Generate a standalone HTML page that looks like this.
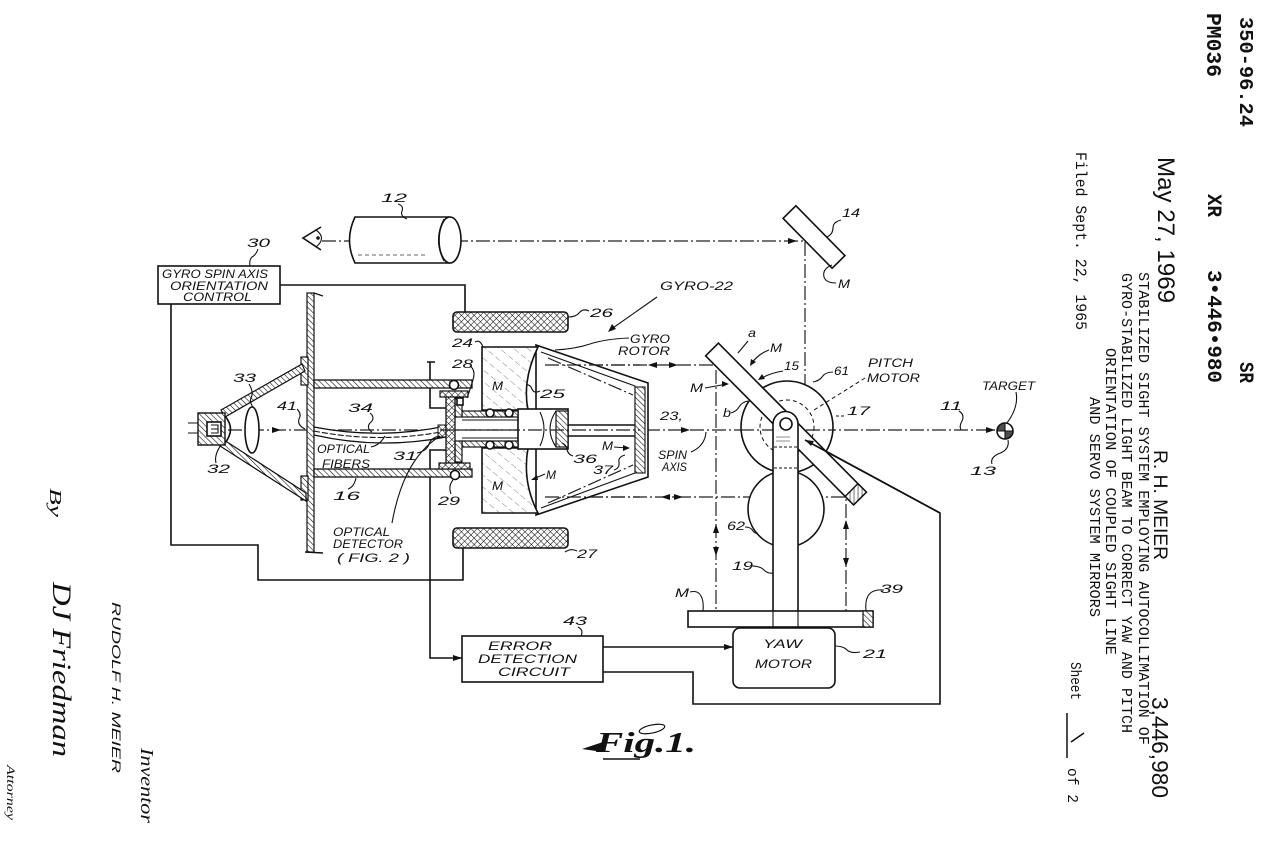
<!DOCTYPE html>
<html><head><meta charset="utf-8">
<style>
html,body{margin:0;padding:0;background:#fff;}
svg{display:block;}
.s{fill:none;stroke:#111;stroke-width:1.6}
.n{fill:none;stroke:#111;stroke-width:1.1}
.w{fill:#fff;stroke:#111;stroke-width:1.6}
.d{fill:none;stroke:#222;stroke-width:1.2;stroke-dasharray:14 3 2 3}
.k{fill:#111}
.t{font-family:"Liberation Sans",sans-serif;font-style:italic;font-size:12px;fill:#111}
.m{font-family:"Liberation Mono",monospace;fill:#111}
.sf{font-family:"Liberation Serif",serif;font-style:italic;fill:#111}
</style></head>
<body>
<svg width="1280" height="851" viewBox="0 0 1280 851" xmlns="http://www.w3.org/2000/svg">
<defs>
<pattern id="h" width="4" height="4" patternUnits="userSpaceOnUse" patternTransform="rotate(-45)"><rect width="4" height="4" fill="#fff"/><line x1="0" y1="0" x2="0" y2="4" stroke="#000" stroke-width="1.1"/></pattern>
<pattern id="xh" width="4.5" height="4.5" patternUnits="userSpaceOnUse" patternTransform="rotate(45)"><rect width="4.5" height="4.5" fill="#fff"/><path d="M0,0V4.5M0,0H4.5" stroke="#000" stroke-width="1"/></pattern>
<pattern id="lh" width="9" height="9" patternUnits="userSpaceOnUse" patternTransform="rotate(-50)"><rect width="9" height="9" fill="#fff"/><line x1="0" y1="0" x2="0" y2="9" stroke="#666" stroke-width="0.8" stroke-dasharray="3 3"/></pattern>
</defs>

<!-- ===== header (rotated) ===== -->
<text class="m" font-weight="bold" font-size="19" transform="translate(1240,17) rotate(90)" textLength="110" lengthAdjust="spacingAndGlyphs">350-96.24</text>
<text class="m" font-weight="bold" font-size="21" transform="translate(1207,13) rotate(90)" textLength="64" lengthAdjust="spacingAndGlyphs">PM036</text>
<text class="m" font-weight="bold" font-size="20" transform="translate(1208,194) rotate(90)" textLength="23" lengthAdjust="spacingAndGlyphs">XR</text>
<text class="m" font-weight="bold" font-size="20" transform="translate(1208,270) rotate(90)" textLength="113" lengthAdjust="spacingAndGlyphs">3•446•980</text>
<text class="m" font-weight="bold" font-size="20" transform="translate(1240,362) rotate(90)" textLength="21" lengthAdjust="spacingAndGlyphs">SR</text>
<text font-family="Liberation Sans,sans-serif" font-size="24" fill="#111" transform="translate(1158,157) rotate(90)" textLength="146" lengthAdjust="spacingAndGlyphs">May 27, 1969</text>
<text class="m" font-size="16" transform="translate(1076,152) rotate(90)" textLength="178" lengthAdjust="spacingAndGlyphs">Filed Sept. 22, 1965</text>
<text class="m" font-size="15" transform="translate(1139,272) rotate(90)" textLength="473" lengthAdjust="spacingAndGlyphs">STABILIZED SIGHT SYSTEM EMPLOYING AUTOCOLLIMATION OF</text>
<text class="m" font-size="15" transform="translate(1122,273) rotate(90)" textLength="460" lengthAdjust="spacingAndGlyphs">GYRO-STABILIZED LIGHT BEAM TO CORRECT YAW AND PITCH</text>
<text class="m" font-size="15" transform="translate(1106,348) rotate(90)" textLength="307" lengthAdjust="spacingAndGlyphs">ORIENTATION OF COUPLED SIGHT LINE</text>
<text class="m" font-size="15" transform="translate(1090,397) rotate(90)" textLength="220" lengthAdjust="spacingAndGlyphs">AND SERVO SYSTEM MIRRORS</text>
<text font-family="Liberation Sans,sans-serif" font-size="19" fill="#111" transform="translate(1154,450) rotate(90)" textLength="110" lengthAdjust="spacingAndGlyphs">R. H. MEIER</text>
<text font-family="Liberation Sans,sans-serif" font-size="23" fill="#111" transform="translate(1152,697) rotate(90)" textLength="101" lengthAdjust="spacingAndGlyphs">3,446,980</text>
<text class="m" font-size="15" transform="translate(1071,662) rotate(90)" textLength="38" lengthAdjust="spacingAndGlyphs">Sheet</text>
<line x1="1067" y1="713" x2="1067" y2="758" stroke="#111" stroke-width="1.5"/>
<line x1="1071" y1="742" x2="1084" y2="733" stroke="#111" stroke-width="1.6"/>
<text class="m" font-size="15" transform="translate(1068,768) rotate(90)" textLength="35" lengthAdjust="spacingAndGlyphs">of 2</text>

<!-- ===== bottom-left signatures ===== -->
<text class="sf" font-size="17" transform="translate(50,488) rotate(90)" textLength="29" lengthAdjust="spacingAndGlyphs">By</text>
<text class="sf" font-size="26" transform="translate(53,582) rotate(90)" textLength="175" lengthAdjust="spacingAndGlyphs">DJ Friedman</text>
<text class="t" font-size="15" transform="translate(112,602) rotate(90)" textLength="171" lengthAdjust="spacingAndGlyphs">RUDOLF H. MEIER</text>
<text class="sf" font-size="18" transform="translate(141,748) rotate(90)" textLength="75" lengthAdjust="spacingAndGlyphs">Inventor</text>
<text class="sf" font-size="12" transform="translate(7,765) rotate(90)" textLength="55" lengthAdjust="spacingAndGlyphs">Attorney</text>

<!-- ===== optical dash-dot paths ===== -->
<path class="d" d="M322,241 H805 V410"/>
<path class="d" d="M228,430 H1000"/>
<path class="d" d="M545,365 H716 V611"/>
<path class="d" d="M545,497 H846 V611"/>

<!-- ===== telescope 12 & eye ===== -->
<path class="w" d="M450,217 L355,217 Q344,240 355,263 L450,263"/>
<ellipse class="w" cx="450" cy="240" rx="11" ry="23"/>
<path class="n" d="M444,219 Q433,240 444,261"/>
<line x1="358" y1="255" x2="425" y2="255" stroke="#333" stroke-width="0.8" stroke-dasharray="4 3"/>
<path class="s" d="M321,227 L303,238 L321,250"/>
<path class="n" d="M316,230 Q327,238 316,247"/>
<circle cx="318" cy="238" r="1.8" class="k"/>
<text class="t" x="381" y="202" textLength="26" lengthAdjust="spacingAndGlyphs">12</text>
<path class="n" d="M398,204 q6,2 4,7 q-2,5 5,8"/>

<!-- ===== mirror 14 ===== -->
<rect class="w" x="-35" y="-9" width="70" height="18" transform="translate(814,237) rotate(45.5)"/>
<text class="t" x="842" y="217" textLength="18" lengthAdjust="spacingAndGlyphs">14</text>
<path class="n" d="M841,220 q-8,2 -8,8 q0,6 -6,9"/>
<path class="n" d="M832,265 q-10,4 -8,12 q2,6 12,6"/>
<text class="t" x="838" y="288" textLength="12" lengthAdjust="spacingAndGlyphs">M</text>

<!-- ===== box 30 ===== -->
<rect class="s" x="158" y="266" width="122" height="38"/>
<text class="t" font-size="11" x="162" y="278" textLength="106" lengthAdjust="spacingAndGlyphs">GYRO SPIN AXIS</text>
<text class="t" font-size="11" x="170" y="290" textLength="98" lengthAdjust="spacingAndGlyphs">ORIENTATION</text>
<text class="t" font-size="11" x="183" y="301" textLength="69" lengthAdjust="spacingAndGlyphs">CONTROL</text>
<text class="t" x="247" y="247" textLength="23" lengthAdjust="spacingAndGlyphs">30</text>
<path class="n" d="M258,249 q-2,6 -6,8 q-3,3 -2,9"/>

<!-- ===== wires ===== -->
<path class="s" d="M280,285 H465 V312"/>
<path class="s" d="M171,304 V545 H258 V580 H463 V548"/>
<path class="s" d="M446,450 H430 V658 H462"/>
<path class="k" d="M462,658 l-9,-3 v6 z"/>
<path class="s" d="M427,362 H435 M430,362 V408 H446"/>
<path class="s" d="M603,647 H733"/>
<path class="k" d="M733,647 l-9,-3 v6 z"/>
<path class="s" d="M603,672 H693 V704 H940 V513 L805,440"/>

<!-- ===== coils 26 27 ===== -->
<rect x="453" y="312" width="115" height="20" rx="4" fill="url(#xh)" stroke="#111" stroke-width="1.6"/>
<rect x="453" y="528" width="115" height="20" rx="4" fill="url(#xh)" stroke="#111" stroke-width="1.6"/>
<text class="t" x="590" y="317" textLength="23" lengthAdjust="spacingAndGlyphs">26</text>
<path class="n" d="M589,311 q-6,-3 -10,2 q-3,4 -11,4"/>
<text class="t" x="577" y="558" textLength="20" lengthAdjust="spacingAndGlyphs">27</text>
<path class="n" d="M577,551 q-6,-3 -12,1"/>

<!-- ===== bulkhead, housing 16 ===== -->
<rect x="307" y="293" width="7" height="259" fill="url(#h)" stroke="#111" stroke-width="1.2"/>
<rect x="301" y="357" width="7" height="28" fill="url(#h)" stroke="#111" stroke-width="1.2"/>
<rect x="301" y="476" width="7" height="24" fill="url(#h)" stroke="#111" stroke-width="1.2"/>
<line x1="314" y1="293" x2="323" y2="296" stroke="#111" stroke-width="1.2"/>
<line x1="305" y1="552" x2="323" y2="553" stroke="#111" stroke-width="1.4"/>
<rect x="314" y="380" width="158" height="8" fill="url(#h)" stroke="#111" stroke-width="1.3"/>
<rect x="314" y="469" width="158" height="8" fill="url(#h)" stroke="#111" stroke-width="1.3"/>

<!-- eyepiece cone -->
<polygon points="221,410 302,364 305,371 225,417" fill="url(#h)" stroke="#111" stroke-width="1.2"/>
<polygon points="224,440 306,493 306,501 220,446" fill="url(#h)" stroke="#111" stroke-width="1.2"/>
<ellipse class="w" cx="252" cy="430" rx="7" ry="23"/>
<rect x="198" y="413" width="27" height="32" fill="url(#h)" stroke="#111" stroke-width="1.4"/>
<rect class="w" x="207" y="422" width="14" height="14" stroke-width="1.2"/>
<path class="n" d="M211,425 H218 V433 H211 M211,429 H218"/>
<path class="s" d="M225,416 Q236,429 225,443"/>
<path class="n" d="M188,423 H198 M188,433 H198"/>
<path class="k" d="M281,430 l-9,-3 v6 z"/>

<!-- optical fibers 34 -->
<path d="M314,427 Q380,440 446,426 L446,437 Q380,450 314,435 Z" fill="#fff" stroke="#111" stroke-width="1.2"/>
<path d="M314,431 Q380,444 446,431" class="n" stroke-dasharray="6 2"/>
<rect x="438" y="425" width="9" height="12" fill="url(#xh)" stroke="#111" stroke-width="1"/>

<!-- ===== gyro rotor ===== -->
<path class="w" d="M536,345 L648,383 L648,477 L536,515 Z"/>
<path class="n" d="M541,352 L635,386 L635,473 L541,508"/>
<rect x="635" y="387" width="10" height="86" fill="url(#h)" stroke="#111" stroke-width="1.1"/>
<path class="d" d="M548,358 L633,395 M548,503 L633,465"/>
<path class="d" d="M545,365 H640 M545,497 H640"/>
<path class="s" d="M568,425 H635 M568,436 H635"/>
<path d="M482,347 L538,347 Q522,380 528,410 L482,410 Z" fill="url(#lh)" stroke="#111" stroke-width="1.6"/>
<path d="M482,448 L528,448 Q522,482 538,513 L482,513 Z" fill="url(#lh)" stroke="#111" stroke-width="1.6"/>
<!-- hub -->
<rect class="w" x="518" y="409" width="50" height="40"/>
<rect x="556" y="411" width="12" height="36" fill="url(#h)" stroke="#111" stroke-width="1.2"/>
<path class="n" d="M556,411 Q544,429 556,447 M540,412 Q548,429 540,446"/>
<rect x="462" y="411" width="56" height="6" fill="url(#h)" stroke="#111" stroke-width="1.2"/>
<rect x="462" y="441" width="56" height="6" fill="url(#h)" stroke="#111" stroke-width="1.2"/>
<rect x="455" y="398" width="7" height="19" fill="url(#h)" stroke="#111" stroke-width="1.2"/>
<rect x="455" y="441" width="7" height="21" fill="url(#h)" stroke="#111" stroke-width="1.2"/>
<path class="n" d="M462,420 H518 M462,438 H518"/>
<rect x="446" y="392" width="9" height="75" fill="url(#xh)" stroke="#111" stroke-width="1.3"/>
<rect x="440" y="391" width="28" height="6" fill="url(#xh)" stroke="#111" stroke-width="1.2"/>
<rect x="439" y="463" width="31" height="6" fill="url(#xh)" stroke="#111" stroke-width="1.2"/>
<circle class="w" cx="454" cy="385" r="4.5"/>
<circle class="w" cx="455" cy="475" r="4.5"/>
<rect class="w" x="457" y="398" width="6" height="7" stroke-width="1"/>
<circle class="w" cx="490" cy="413" r="4"/>
<circle class="w" cx="509" cy="413" r="4"/>
<circle class="w" cx="490" cy="445" r="4"/>
<circle class="w" cx="509" cy="445" r="4"/>
<path class="d" d="M440,430 H640"/>
<path class="k" d="M690,430 l-9,-3 v6 z"/>

<!-- beam arrows -->
<path class="k" d="M797,241 l-9,-3 v6 z"/>
<path class="k" d="M805,402 l-3,-9 h6 z"/>
<path class="k" d="M648,365 l9,-3 v6 z"/>
<path class="k" d="M678,365 l-9,-3 v6 z"/>
<path class="k" d="M661,497 l9,-3 v6 z"/>
<path class="k" d="M683,497 l-9,-3 v6 z"/>
<path class="k" d="M716,524 l-3,9 h6 z"/>
<path class="k" d="M716,556 l-3,-9 h6 z"/>
<path class="k" d="M846,520 l-3,9 h6 z"/>
<path class="k" d="M846,567 l-3,-9 h6 z"/>
<path class="k" d="M995,430 l-9,-3 v6 z"/>

<!-- ===== pitch / yaw assembly ===== -->
<circle class="w" cx="786" cy="509" r="38"/>
<circle class="w" cx="787" cy="427" r="46"/>
<circle cx="787" cy="427" r="27" fill="none" stroke="#111" stroke-width="1" stroke-dasharray="4 3"/>
<circle cx="785" cy="503" r="7" fill="none" stroke="#111" stroke-width="1" stroke-dasharray="2 2"/>
<path class="d" d="M740,430 H835"/>
<g transform="translate(786,424) rotate(45.2)">
<rect class="w" x="-105" y="-9" width="210" height="18"/>
<rect x="93" y="-9" width="12" height="18" fill="url(#h)" stroke="#111" stroke-width="1.4"/>
</g>
<path class="w" d="M773,611 V424 A12.5,12.5 0 0 1 798,424 V611"/>
<circle class="w" cx="786" cy="424" r="6"/>
<path d="M774,447 H797 M774,468 H797" stroke="#111" stroke-width="1" stroke-dasharray="3 2"/>
<path d="M776,437 H790 M776,441 H790" stroke="#666" stroke-width="0.8"/>
<path class="s" d="M940,513 L805,440"/>
<path class="k" d="M805,440 l9,1 l-3,5 z"/>
<rect class="w" x="688" y="611" width="185" height="16"/>
<rect x="863" y="611" width="10" height="16" fill="url(#h)" stroke="#111" stroke-width="1.2"/>
<path class="n" d="M773,611 V627 M798,611 V627"/>
<rect class="w" x="733" y="628" width="102" height="60" rx="7"/>
<text class="t" x="763" y="648" textLength="39" lengthAdjust="spacingAndGlyphs">YAW</text>
<text class="t" x="755" y="668" textLength="57" lengthAdjust="spacingAndGlyphs">MOTOR</text>

<!-- target -->
<circle class="w" cx="1005" cy="431" r="8"/>
<path class="n" d="M997,431 H1013 M1005,423 V439"/>
<path class="k" d="M1005,431 V423 A8,8 0 0 0 997,431 Z M1005,431 V439 A8,8 0 0 0 1013,431 Z" opacity="0.75"/>

<!-- error detection box -->
<rect class="s" x="462" y="636" width="141" height="46"/>
<text class="t" x="488" y="650" textLength="64" lengthAdjust="spacingAndGlyphs">ERROR</text>
<text class="t" x="478" y="663" textLength="99" lengthAdjust="spacingAndGlyphs">DETECTION</text>
<text class="t" x="498" y="676" textLength="72" lengthAdjust="spacingAndGlyphs">CIRCUIT</text>

<!-- ===== labels ===== -->
<text class="t" x="660" y="290" textLength="73" lengthAdjust="spacingAndGlyphs">GYRO-22</text>
<path class="n" d="M657,297 L610,330"/>
<path class="k" d="M608,332 l4,-8 l4,5 z"/>
<text class="t" x="630" y="343" textLength="40" lengthAdjust="spacingAndGlyphs">GYRO</text>
<text class="t" x="618" y="355" textLength="52" lengthAdjust="spacingAndGlyphs">ROTOR</text>
<path class="n" d="M629,338 Q605,339 590,344 T555,350"/>
<text class="t" x="452" y="347" textLength="21" lengthAdjust="spacingAndGlyphs">24</text>
<path class="n" d="M475,342 q5,-3 8,5"/>
<text class="t" x="452" y="368" textLength="21" lengthAdjust="spacingAndGlyphs">28</text>
<path class="n" d="M470,366 q6,4 3,14 q-3,10 -6,18"/>
<text class="t" x="492" y="390" textLength="11" lengthAdjust="spacingAndGlyphs">M</text>
<text class="t" x="492" y="490" textLength="11" lengthAdjust="spacingAndGlyphs">M</text>
<text class="t" x="540" y="398" textLength="25" lengthAdjust="spacingAndGlyphs">25</text>
<path class="n" d="M540,391 q-6,3 -8,-2 q-2,-5 -6,-4"/>
<text class="t" x="233" y="382" textLength="23" lengthAdjust="spacingAndGlyphs">33</text>
<path class="n" d="M249,384 q5,8 2,14 q-2,5 3,10"/>
<text class="t" x="277" y="410" textLength="20" lengthAdjust="spacingAndGlyphs">41</text>
<path class="n" d="M297,409 q5,5 2,10 q-2,6 6,10"/>
<text class="t" x="348" y="412" textLength="25" lengthAdjust="spacingAndGlyphs">34</text>
<path class="n" d="M370,413 q6,5 0,10 q-4,5 2,9"/>
<text class="t" x="317" y="453" textLength="53" lengthAdjust="spacingAndGlyphs">OPTICAL</text>
<text class="t" x="322" y="468" textLength="48" lengthAdjust="spacingAndGlyphs">FIBERS</text>
<path class="n" d="M371,447 q9,-2 14,-11"/>
<text class="t" x="393" y="460" textLength="24" lengthAdjust="spacingAndGlyphs">31</text>
<path class="n" d="M417,453 q10,-2 12,-9 q2,-6 10,-8"/>
<text class="t" x="207" y="473" textLength="23" lengthAdjust="spacingAndGlyphs">32</text>
<path class="n" d="M216,463 q-2,-8 5,-18"/>
<text class="t" x="333" y="500" textLength="27" lengthAdjust="spacingAndGlyphs">16</text>
<path class="n" d="M348,489 q6,-2 8,-11"/>
<text class="t" x="438" y="505" textLength="22" lengthAdjust="spacingAndGlyphs">29</text>
<path class="n" d="M451,494 q-3,-8 2,-14"/>
<text class="t" x="333" y="536" textLength="57" lengthAdjust="spacingAndGlyphs">OPTICAL</text>
<text class="t" x="333" y="548" textLength="70" lengthAdjust="spacingAndGlyphs">DETECTOR</text>
<text class="t" x="337" y="562" textLength="73" lengthAdjust="spacingAndGlyphs">( FIG. 2 )</text>
<path class="n" d="M392,523 C398,490 410,455 440,436"/>
<text class="t" x="602" y="450" textLength="11" lengthAdjust="spacingAndGlyphs">M</text>
<path class="n" d="M614,447 L628,448"/>
<path class="k" d="M630,448 l-7,-3 v6 z"/>
<text class="t" x="546" y="479" textLength="10" lengthAdjust="spacingAndGlyphs">M</text>
<path class="n" d="M545,474 L533,479"/>
<path class="k" d="M531,480 l6,-5 l1,5 z"/>
<text class="t" x="573" y="463" textLength="24" lengthAdjust="spacingAndGlyphs">36</text>
<path class="n" d="M573,456 q-6,-2 -6,-8 q-2,-4 -5,-5"/>
<text class="t" x="593" y="474" textLength="20" lengthAdjust="spacingAndGlyphs">37</text>
<path class="n" d="M614,470 q6,-2 5,-8 q-1,-5 6,-7"/>
<text class="t" x="660" y="420" textLength="23" lengthAdjust="spacingAndGlyphs">23,</text>
<text class="t" x="658" y="459" textLength="29" lengthAdjust="spacingAndGlyphs">SPIN</text>
<text class="t" x="662" y="471" textLength="25" lengthAdjust="spacingAndGlyphs">AXIS</text>
<path class="n" d="M691,452 Q705,446 706,432"/>

<text class="t" x="748" y="337" textLength="8" lengthAdjust="spacingAndGlyphs">a</text>
<path class="n" d="M748,341 L738,353"/>
<text class="t" x="770" y="352" textLength="12" lengthAdjust="spacingAndGlyphs">M</text>
<path class="n" d="M769,350 Q758,354 751,364"/>
<path class="k" d="M750,366 l1,-7 l5,3 z"/>
<text class="t" x="784" y="370" textLength="15" lengthAdjust="spacingAndGlyphs">15</text>
<path class="n" d="M783,371 Q770,373 760,379"/>
<path class="k" d="M758,380 l4,-6 l3,5 z"/>
<text class="t" x="690" y="392" textLength="13" lengthAdjust="spacingAndGlyphs">M</text>
<path class="n" d="M705,388 L727,384"/>
<path class="k" d="M729,384 l-7,-3 v6 z"/>
<text class="t" x="723" y="417" textLength="8" lengthAdjust="spacingAndGlyphs">b</text>
<path class="n" d="M731,413 q6,-2 8,-6 q3,-5 9,-6"/>
<text class="t" x="834" y="375" textLength="15" lengthAdjust="spacingAndGlyphs">61</text>
<path class="n" d="M833,372 q-8,0 -11,5 q-3,4 -9,5"/>
<text class="t" x="868" y="367" textLength="45" lengthAdjust="spacingAndGlyphs">PITCH</text>
<text class="t" x="867" y="382" textLength="53" lengthAdjust="spacingAndGlyphs">MOTOR</text>
<path d="M865,378 L814,410" stroke="#111" stroke-width="1" stroke-dasharray="4 3" fill="none"/>
<text class="t" x="847" y="415" textLength="23" lengthAdjust="spacingAndGlyphs">17</text>
<path d="M836,416 H845" stroke="#111" stroke-width="1" stroke-dasharray="3 2"/>
<text class="t" x="982" y="390" textLength="53" lengthAdjust="spacingAndGlyphs">TARGET</text>
<path class="n" d="M1016,392 q3,15 -9,31"/>
<text class="t" x="940" y="410" textLength="22" lengthAdjust="spacingAndGlyphs">11</text>
<path class="n" d="M959,411 q6,4 3,10 q-3,5 -1,9"/>
<text class="t" x="970" y="475" textLength="26" lengthAdjust="spacingAndGlyphs">13</text>
<path class="n" d="M1008,440 q2,10 -10,14 q-8,4 -6,10"/>
<text class="t" x="727" y="530" textLength="18" lengthAdjust="spacingAndGlyphs">62</text>
<path class="n" d="M745,527 q6,0 8,4 q2,3 5,2"/>
<text class="t" x="732" y="570" textLength="21" lengthAdjust="spacingAndGlyphs">19</text>
<path class="n" d="M752,566 q8,0 12,4 q4,4 9,3"/>
<text class="t" x="675" y="597" textLength="14" lengthAdjust="spacingAndGlyphs">M</text>
<path class="n" d="M690,592 q8,-2 11,4 q3,5 2,15"/>
<text class="t" x="880" y="593" textLength="23" lengthAdjust="spacingAndGlyphs">39</text>
<path class="n" d="M884,590 q-12,-1 -16,6 q-3,5 -2,15"/>
<text class="t" x="863" y="658" textLength="24" lengthAdjust="spacingAndGlyphs">21</text>
<path class="n" d="M860,652 q-10,2 -14,-3 q-4,-3 -11,-3"/>
<text class="t" x="563" y="625" textLength="24" lengthAdjust="spacingAndGlyphs">43</text>
<path class="n" d="M578,627 q6,3 3,9"/>

<!-- Fig. 1 -->
<text class="sf" font-weight="bold" font-size="28" x="596" y="752" textLength="100" lengthAdjust="spacingAndGlyphs">Fig.1.</text>
<path class="k" d="M582,749 L606,741 L603,752 Z"/>
<ellipse cx="652" cy="729" rx="13" ry="4" fill="none" stroke="#111" stroke-width="1.2" transform="rotate(-12 652 729)"/>
<path class="s" d="M603,759 H640"/>
</svg>
</body></html>
